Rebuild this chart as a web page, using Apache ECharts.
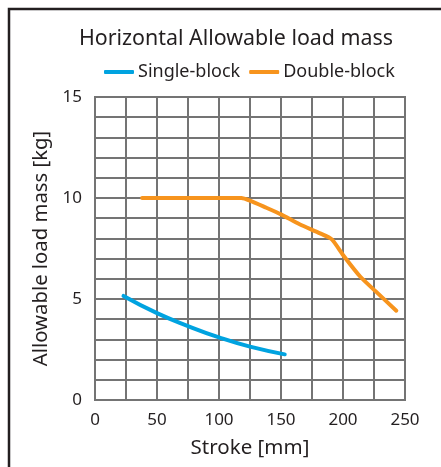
<!DOCTYPE html>
<html>
<head>
    <meta charset="utf-8">
    <title>ECharts</title>
    <script src="https://cdn.jsdelivr.net/npm/echarts@6/dist/echarts.min.js"></script>
    <style>
        html, body { margin: 0; padding: 0; background: #fff; }
    </style>
</head>
<body>
    <div id="main" style="width: 441px;height:467px;"></div>
    <script type="text/javascript">
        // data
        var seriesNames = ['Single-block', 'Double-block'];
        var singleStroke = [23, 50, 75, 100, 125, 153];
        var singleMass = [5.15, 4.3, 3.66, 3.1, 2.64, 2.26];
        var doubleStroke = [38, 118, 125, 137, 150, 165, 181.5, 191, 200, 214, 226, 243];
        var doubleMass = [10, 10, 9.87, 9.55, 9.19, 8.7, 8.25, 7.95, 7.18, 6.1, 5.4, 4.42];

        function pairs(xs, ys) {
            return xs.map(function (x, i) { return [x, ys[i]]; });
        }

        var myChart = echarts.init(document.getElementById('main'));
        var font = 'Noto Sans';
        var ink = '#231f20';
        var gridGray = '#747474';

        var option = {
            animation: false,
            title: {
                text: 'Horizontal Allowable load mass',
                left: 231,
                textAlign: 'center',
                top: 23,
                textStyle: { fontFamily: font, fontSize: 21.4, fontWeight: 'normal', color: ink }
            },
            legend: {
                left: 99,
                top: 58,
                itemWidth: 30,
                itemHeight: 4,
                itemGap: 9,
                icon: 'roundRect',
                textStyle: { fontFamily: font, fontSize: 18, color: ink, padding: [0, 0, 0, -1] },
                data: seriesNames
            },
            grid: {
                left: 95, top: 97, width: 310, height: 303,
                show: true, borderColor: gridGray, borderWidth: 2
            },
            xAxis: {
                type: 'value', min: 0, max: 250, interval: 50,
                name: 'Stroke [mm]', nameLocation: 'middle', nameGap: 38,
                nameTextStyle: { fontFamily: font, fontSize: 20.5, color: ink },
                axisLine: { show: false },
                axisTick: { show: false },
                axisLabel: { fontFamily: font, fontSize: 17, color: ink, margin: 12 },
                splitLine: { lineStyle: { color: gridGray, width: 2 } },
                minorTick: { show: false, splitNumber: 2 },
                minorSplitLine: { show: true, lineStyle: { color: gridGray, width: 2 } }
            },
            yAxis: {
                type: 'value', min: 0, max: 15, interval: 5,
                name: 'Allowable load mass [kg]', nameLocation: 'middle', nameGap: 44,
                nameTextStyle: { fontFamily: font, fontSize: 20.3, color: ink },
                axisLine: { show: false },
                axisTick: { show: false },
                axisLabel: { fontFamily: font, fontSize: 17, color: ink, margin: 13 },
                splitLine: { lineStyle: { color: gridGray, width: 2 } },
                minorTick: { show: false, splitNumber: 5 },
                minorSplitLine: { show: true, lineStyle: { color: gridGray, width: 2 } }
            },
            graphic: [{
                type: 'polyline',
                shape: { points: [[9, 467], [9, 9], [441, 9]] },
                style: { stroke: ink, lineWidth: 2.5, fill: null }
            }],
            series: [{
                name: seriesNames[0],
                type: 'line',
                smooth: 0.5,
                symbol: 'none',
                lineStyle: { color: '#00a3e0', width: 4, cap: 'round' },
                itemStyle: { color: '#00a3e0' },
                data: pairs(singleStroke, singleMass)
            }, {
                name: seriesNames[1],
                type: 'line',
                smooth: 0.2,
                symbol: 'none',
                lineStyle: { color: '#f7941d', width: 4, cap: 'round', join: 'round' },
                itemStyle: { color: '#f7941d' },
                data: pairs(doubleStroke, doubleMass)
            }]
        };

        myChart.setOption(option);
    </script>
</body>
</html>
